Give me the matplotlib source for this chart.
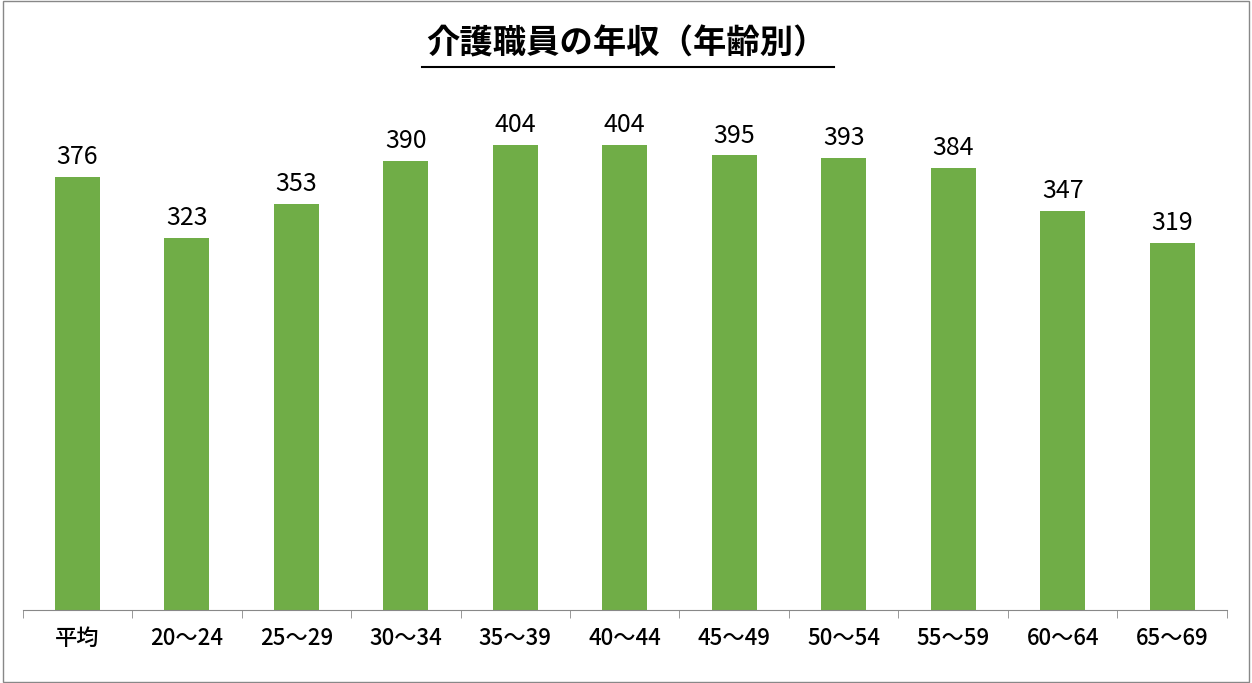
import matplotlib.pyplot as plt
import numpy as np

plt.rcParams['font.family'] = ['Noto Sans CJK JP', 'DejaVu Sans']

categories = ["平均", "20〜24", "25〜29", "30〜34", "35〜39", "40〜44",
              "45〜49", "50〜54", "55〜59", "60〜64", "65〜69"]
values = [376, 323, 353, 390, 404, 404, 395, 393, 384, 347, 319]

fig = plt.figure(figsize=(12.52, 6.83), dpi=100)
ax = fig.add_axes([0.018, 0.107, 0.962, 0.758])

x = np.arange(len(categories))
bars = ax.bar(x, values, width=0.41, color="#70AD47")
for xi, v in zip(x, values):
    ax.text(xi, v + 6, str(v), ha="center", va="bottom", fontsize=18)

ax.set_xlim(-0.5, len(categories) - 0.5)
ax.set_ylim(0, 450)
ax.set_yticks([])
ax.set_xticks(x)
ax.set_xticklabels(categories, fontsize=16, fontweight="medium")
ax.tick_params(axis="x", length=0, pad=12)
ax.set_xticks(np.arange(-0.5, len(categories)), minor=True)
ax.tick_params(axis="x", which="minor", length=6, color="#888888")
for s in ["top", "right", "left"]:
    ax.spines[s].set_visible(False)
ax.spines["bottom"].set_color("#888888")

fig.text(0.5, 0.935, "介護職員の年収（年齢別）", ha="center", va="center",
         fontsize=24, fontweight="bold")
fig.add_artist(plt.Line2D([0.337, 0.666], [0.902, 0.902], color="black", lw=1.5))
fig.add_artist(plt.Rectangle((0.002, 0.002), 0.996, 0.996, fill=False,
                             edgecolor="#888888", lw=1, transform=fig.transFigure))

fig.savefig("out.png", dpi=100)
